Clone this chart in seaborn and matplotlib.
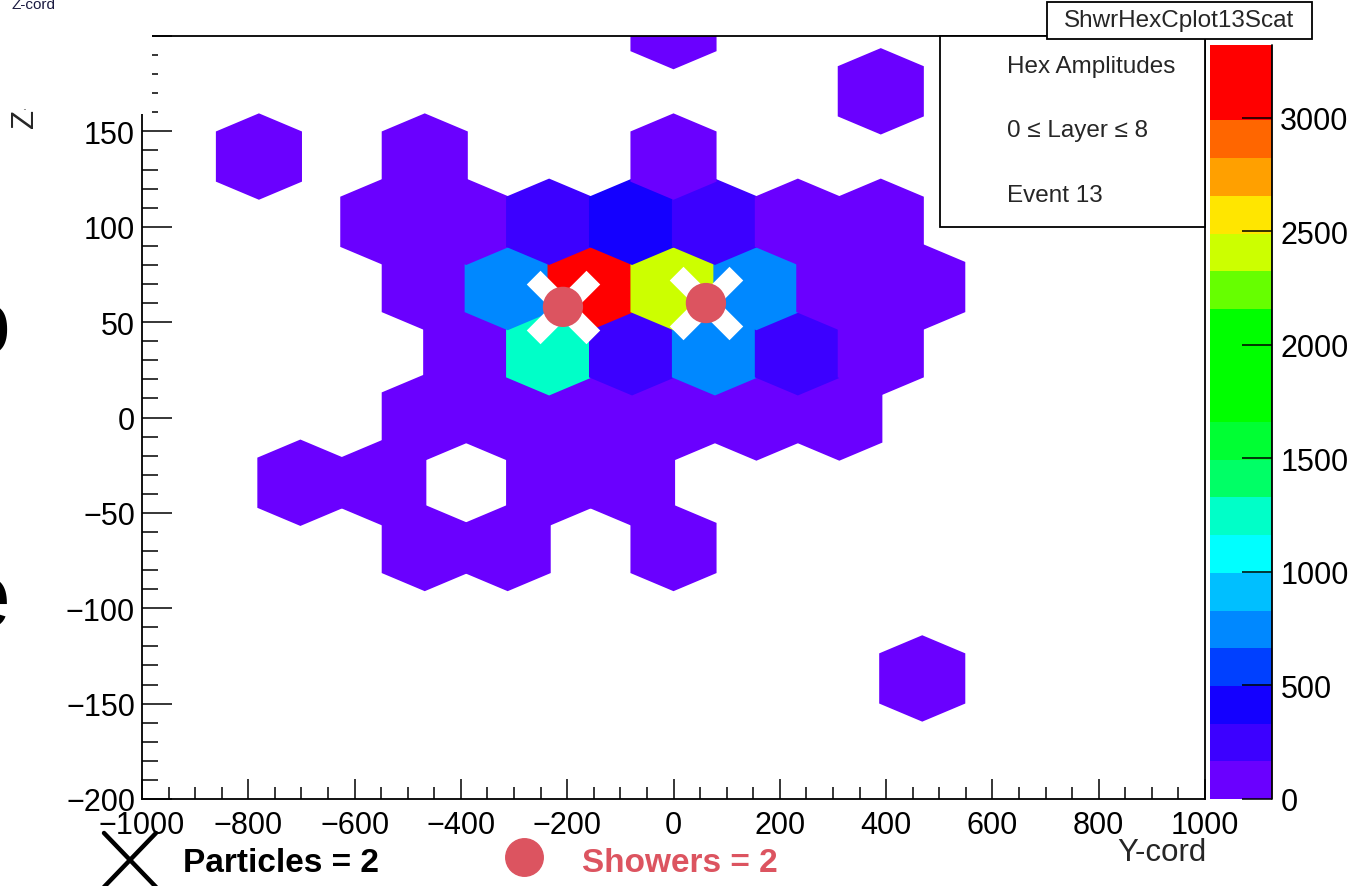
import numpy as np
import matplotlib
matplotlib.use("Agg")
import matplotlib.pyplot as plt
import seaborn as sns
from matplotlib.collections import PolyCollection
from matplotlib.colors import ListedColormap, BoundaryNorm
from matplotlib.patches import Rectangle
from matplotlib.lines import Line2D
from matplotlib.ticker import MultipleLocator

# ---- detector cells: row index, column index (half steps on odd rows), amplitude ----
hex_row = [6,
           5,
           4, 4, 4,
           3, 3, 3, 3, 3, 3, 3,
           2, 2, 2, 2, 2, 2, 2,
           1, 1, 1, 1, 1, 1,
           0, 0, 0, 0, 0, 0,
           -1, -1, -1, -1,
           -2, -2, -2,
           -4]
hex_col = [0,
           2.5,
           -5, -3, 0,
           -3.5, -2.5, -1.5, -0.5, 0.5, 1.5, 2.5,
           -3, -2, -1, 0, 1, 2, 3,
           -2.5, -1.5, -0.5, 0.5, 1.5, 2.5,
           -3, -2, -1, 0, 1, 2,
           -4.5, -3.5, -1.5, -0.5,
           -3, -2, 0,
           3]
hex_amp = [60,
           45,
           35, 70, 110,
           55, 120, 250, 430, 260, 140, 75,
           90, 745, 3240, 2390, 760, 150, 65,
           130, 1240, 280, 720, 235, 95,
           60, 140, 150, 155, 120, 50,
           30, 85, 110, 100,
           40, 70, 55,
           40]

# reconstructed particles and showers (Y-cord, Z-cord)
particle_y = [-208, 61]
particle_z = [58, 60]
shower_y = [-208, 61]
shower_z = [58, 60]

# colour contours
level_edges = np.linspace(0, 3320, 21)
level_colors = ['#6a00ff', '#3c00ff', '#1400ff', '#0040ff', '#0088ff',
                '#00bfff', '#00ffff', '#00ffc8', '#00ff66', '#00ff33',
                '#00ff00', '#00ff00', '#00ff00', '#66ff00', '#ccff00',
                '#ffe600', '#ffa000', '#ff6600', '#ff0000', '#ff0000']
cbar_ticks = [0, 500, 1000, 1500, 2000, 2500, 3000]

# cell geometry (data units)
PITCH_Y, PITCH_Z = 156.0, 34.2
HALF_W, HALF_H, TIP = 81.0, 22.65, 9.5

sns.set_style("white")
plt.rcParams['font.family'] = ['Liberation Sans', 'DejaVu Sans']

W, H = 1352, 887
fig = plt.figure(figsize=(W / 100, H / 100), dpi=100)


def fx(px):
    return px / W


def fy(py):
    return 1 - py / H


ax = fig.add_axes([fx(142), fy(800), fx(1205) - fx(142), fy(37) - fy(800)])
ax.set_xlim(-1000, 1000)
ax.set_ylim(-200, 200)
ax.set_axisbelow(False)

cmap = ListedColormap(level_colors)
norm = BoundaryNorm(level_edges, cmap.N)

order = np.argsort(hex_row, kind="stable")
verts = []
vals = []
for i in order:
    cy = hex_col[i] * PITCH_Y
    cz = hex_row[i] * PITCH_Z
    s = HALF_H - TIP
    verts.append([(cy, cz + HALF_H), (cy + HALF_W, cz + s), (cy + HALF_W, cz - s),
                  (cy, cz - HALF_H), (cy - HALF_W, cz - s), (cy - HALF_W, cz + s)])
    vals.append(hex_amp[i])
cells = PolyCollection(verts, array=np.array(vals), cmap=cmap, norm=norm,
                       edgecolor='none', linewidth=0, zorder=1)
ax.add_collection(cells)

# particle crosses and shower blobs
ax.scatter(particle_y, particle_z, marker='x', s=43 ** 2, c='white',
           linewidths=14, zorder=3)
sns.scatterplot(x=shower_y, y=shower_z, s=29 ** 2, color='#dc5460',
                edgecolor='none', ax=ax, zorder=4, legend=False)

# axes styling
ax.xaxis.set_major_locator(MultipleLocator(200))
ax.xaxis.set_minor_locator(MultipleLocator(50))
ax.yaxis.set_major_locator(MultipleLocator(50))
ax.yaxis.set_minor_locator(MultipleLocator(10))
ax.tick_params(which='both', bottom=True, left=True, top=False, right=False,
               direction='in', color='black')
ax.tick_params(axis='x', which='major', length=14.5, width=1.1,
               labelsize=22, pad=8, labelcolor='black')
ax.tick_params(axis='x', which='minor', length=8.5, width=1.1)
ax.tick_params(axis='y', which='major', length=21.5, width=1.1,
               labelsize=22, pad=5, labelcolor='black')
ax.tick_params(axis='y', which='minor', length=11.5, width=1.1)
for sp in ax.spines.values():
    sp.set_color('black')
    sp.set_linewidth(1.3)
ax.set_xlabel('')
ax.set_ylabel('')

# colour scale
cax = fig.add_axes([fx(1210), fy(800), fx(1272) - fx(1210), fy(46) - fy(800)])
cb = fig.colorbar(cells, cax=cax, ticks=cbar_ticks)
cb.minorticks_off()
cb.outline.set_visible(False)
cax.set_axisbelow(False)
cax.tick_params(which='major', direction='in', length=21.5, width=1.1, pad=6,
                labelsize=22, right=True, left=False, color='black',
                labelcolor='black')
cax.plot([1, 1], [0, 1], transform=cax.transAxes, color='black', lw=1.3,
         clip_on=False)

# axis titles
fig.text(fx(1207), fy(853), 'Y-cord', ha='right', va='center', fontsize=22.5)
fig.text(fx(25), fy(128), 'Z-cord', ha='center', va='bottom', rotation=90,
         fontsize=22.5)

# panel corner overlay
fig.add_artist(Rectangle((0, fy(110)), fx(60), fy(14) - fy(110),
                         transform=fig.transFigure, facecolor='white',
                         edgecolor='none', zorder=10))
fig.add_artist(Rectangle((fx(60), fy(115)), fx(152) - fx(60), fy(14) - fy(115),
                         transform=fig.transFigure, facecolor='white',
                         edgecolor='none', zorder=10))
fig.text(fx(12), fy(5), 'Z-cord', ha='left', va='center', fontsize=11,
         color='#1a1a40', zorder=11)

# slide text fragments at the left edge
fig.text(fx(10), fy(330), 'o', ha='right', va='center', fontsize=66,
         color='black')
fig.text(fx(10), fy(603), 'e', ha='right', va='center', fontsize=66,
         color='black')

# statistics box
fig.add_artist(Rectangle((fx(940), fy(228)), fx(1205) - fx(940), fy(37) - fy(228),
                         transform=fig.transFigure, facecolor='white',
                         edgecolor='black', lw=1.3, zorder=5))
for txt, py in [('Hex Amplitudes', 67), ('0 \u2264 Layer \u2264 8', 131),
                ('Event 13', 196)]:
    fig.text(fx(1007), fy(py), txt, ha='left', va='center', fontsize=17.5,
             zorder=6)

# title box
fig.add_artist(Rectangle((fx(1047), fy(40)), fx(1312) - fx(1047), fy(3) - fy(40),
                         transform=fig.transFigure, facecolor='white',
                         edgecolor='black', lw=1.3, zorder=5))
fig.text(fx(1179), fy(21.5), 'ShwrHexCplot13Scat', ha='center', va='center',
         fontsize=17.5, zorder=6)

# bottom legend
fig.add_artist(Line2D([fx(104), fx(156)], [fy(834), fy(888)],
                      transform=fig.transFigure, color='black', lw=3.2))
fig.add_artist(Line2D([fx(104), fx(156)], [fy(888), fy(834)],
                      transform=fig.transFigure, color='black', lw=3.2))
fig.text(fx(183), fy(864), f'Particles = {len(particle_y)}', ha='left',
         va='center', fontsize=24, fontweight='bold', color='black')
fig.add_artist(Line2D([fx(524)], [fy(858)], transform=fig.transFigure,
                      marker='o', markersize=27, color='#dc5460', lw=0))
fig.text(fx(582), fy(864), f'Showers = {len(shower_y)}', ha='left',
         va='center', fontsize=24, fontweight='bold', color='#dc5460')

fig.savefig('out.png', dpi=100, facecolor='white')
